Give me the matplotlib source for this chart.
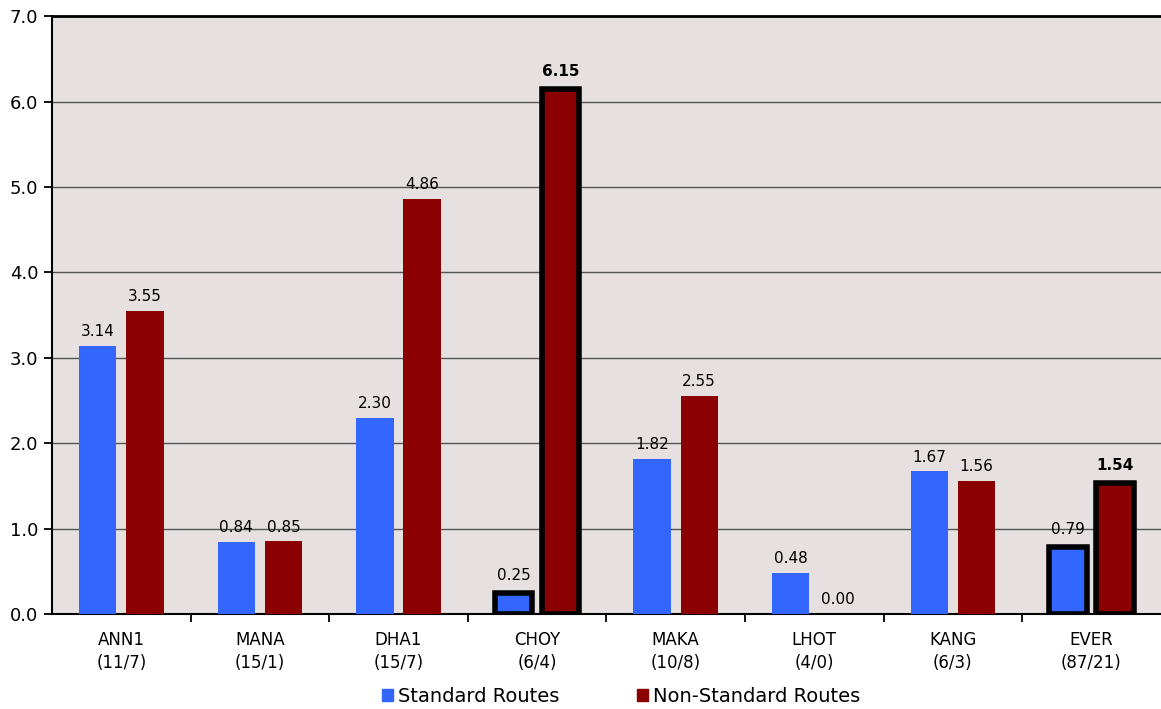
import numpy as np
import matplotlib
matplotlib.use("Agg")
import matplotlib.pyplot as plt
from matplotlib.patches import Patch

# data
sites = ["ANN1", "MANA", "DHA1", "CHOY", "MAKA", "LHOT", "KANG", "EVER"]
counts = ["(11/7)", "(15/1)", "(15/7)", "(6/4)", "(10/8)", "(4/0)", "(6/3)", "(87/21)"]
standard = [3.14, 0.84, 2.30, 0.25, 1.82, 0.48, 1.67, 0.79]
nonstandard = [3.55, 0.85, 4.86, 6.15, 2.55, 0.00, 1.56, 1.54]
highlight = ["CHOY", "EVER"]
bold_labels = ["CHOY", "EVER"]   # bold value on non-standard bar

blue = "#3366FF"
red = "#8B0000"
bg = "#E6E0E0"

plt.rcParams["font.family"] = "DejaVu Sans"

fig = plt.figure(figsize=(11.61, 7.09), dpi=100)
ax = fig.add_axes([0.0448, 0.134, 0.955, 0.843])
ax.set_facecolor(bg)

x = np.arange(len(sites))
w = 0.27
off = 0.17

for i, s in enumerate(sites):
    hl = s in highlight
    lw = 4 if hl else 0
    ax.bar(x[i] - off, standard[i], w, color=blue, edgecolor="black",
           linewidth=lw, zorder=3)
    ax.bar(x[i] + off, nonstandard[i], w, color=red, edgecolor="black",
           linewidth=lw, zorder=3)
    pad = 0.11 if hl else 0.08
    ax.text(x[i] - off, standard[i] + pad, "%.2f" % standard[i],
            ha="center", va="bottom", fontsize=11)
    ax.text(x[i] + off, nonstandard[i] + pad, "%.2f" % nonstandard[i],
            ha="center", va="bottom", fontsize=11,
            fontweight="bold" if s in bold_labels else "normal")

ax.set_ylim(0, 7)
ax.set_xlim(-0.5, len(sites) - 0.5)
ax.set_yticks(np.arange(0, 7.5, 1.0))
ax.set_yticklabels(["%.1f" % v for v in np.arange(0, 7.5, 1.0)], fontsize=13)
ax.yaxis.grid(True, color="#555555", linewidth=1, zorder=0)
ax.set_axisbelow(True)

ax.set_xticks(x)
ax.set_xticklabels([s + "\n" + c for s, c in zip(sites, counts)],
                   fontsize=12, linespacing=1.35)
ax.tick_params(axis="x", length=0, pad=12)
ax.set_xticks(np.arange(0.5, len(sites) - 0.5, 1.0), minor=True)
ax.tick_params(axis="x", which="minor", length=6, width=1.3, color="black")
ax.tick_params(axis="y", length=6, width=1.3, pad=4)

ax.spines["right"].set_visible(False)
ax.spines["left"].set_linewidth(1.5)
ax.spines["bottom"].set_linewidth(1.5)
ax.spines["top"].set_linewidth(2)

handles = [Patch(color=blue, label="Standard Routes"),
           Patch(color=red, label="Non-Standard Routes")]
fig.legend(handles=handles, loc="center", bbox_to_anchor=(0.535, 0.018),
           ncol=2, frameon=False, fontsize=14, handlelength=0.55,
           handleheight=0.55, handletextpad=0.25, columnspacing=4.0)

fig.savefig("out.png", dpi=100, facecolor="white")
